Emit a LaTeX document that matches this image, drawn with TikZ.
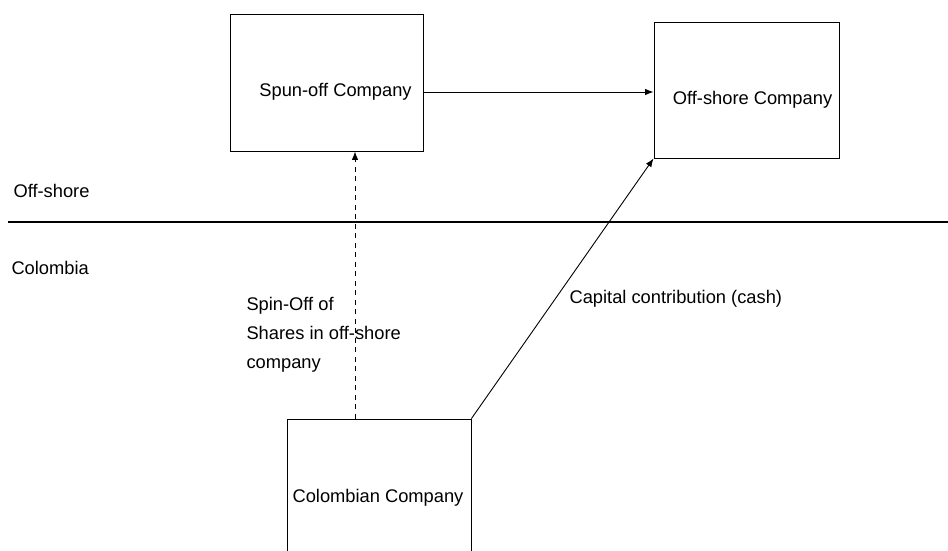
\documentclass[tikz,border=0pt]{standalone}
\usepackage{fontspec}
\setmainfont{Liberation Sans}
\usetikzlibrary{arrows.meta}

\begin{document}
\begin{tikzpicture}[x=1pt,y=-1pt,
    box/.style={draw,line width=0.9pt,inner sep=0pt},
    txt/.style={font=\fontsize{18.3}{29}\selectfont},
    tip/.style={-{Latex[length=8.5pt,width=6.5pt]}}]
        \clip (0,0) rectangle (948,551);
        % companies
        \node[box,minimum width=193pt,minimum height=137pt,
            label={[txt,xshift=9pt,yshift=-9.5pt]center:Spun-off Company}] (S) at (326.5,82.5) {};
        \node[box,minimum width=185pt,minimum height=136pt,
            label={[txt,xshift=6pt,yshift=-9.5pt]center:Off-shore Company}] (O) at (746.5,90) {};
        \node[box,minimum width=184pt,minimum height=170pt,
            label={[txt,xshift=-1pt,yshift=6.5pt]center:Colombian Company}] (C) at (379,504) {};
        % border
        \coordinate (L) at (8,222);
        \coordinate (R) at (948,222);
        \draw[line width=1.5pt] (L)--(R);
        \node[txt,anchor=west] (off) at (10,191) {Off-shore};
        \node[txt,anchor=west] (col) at (8,268) {Colombia};
        % flows
        \coordinate (h) at (0,92);
        \coordinate (d) at (355,0);
        \draw[tip,line width=0.9pt] (S.east |- h)--(O.west |- h);
        \draw[tip,line width=0.9pt,dash pattern=on 5pt off 4.5pt] (C.north -| d)--(S.south -| d);
        \draw[tip,line width=0.9pt] (C.north east)--(O.south west);
        \node[txt,anchor=west,align=left] (spin) at (243,335) {Spin-Off of\\Shares in off-shore\\company};
        \node[txt,anchor=west] (cap) at (566,299) {Capital contribution (cash)};
\end{tikzpicture}
\end{document}
